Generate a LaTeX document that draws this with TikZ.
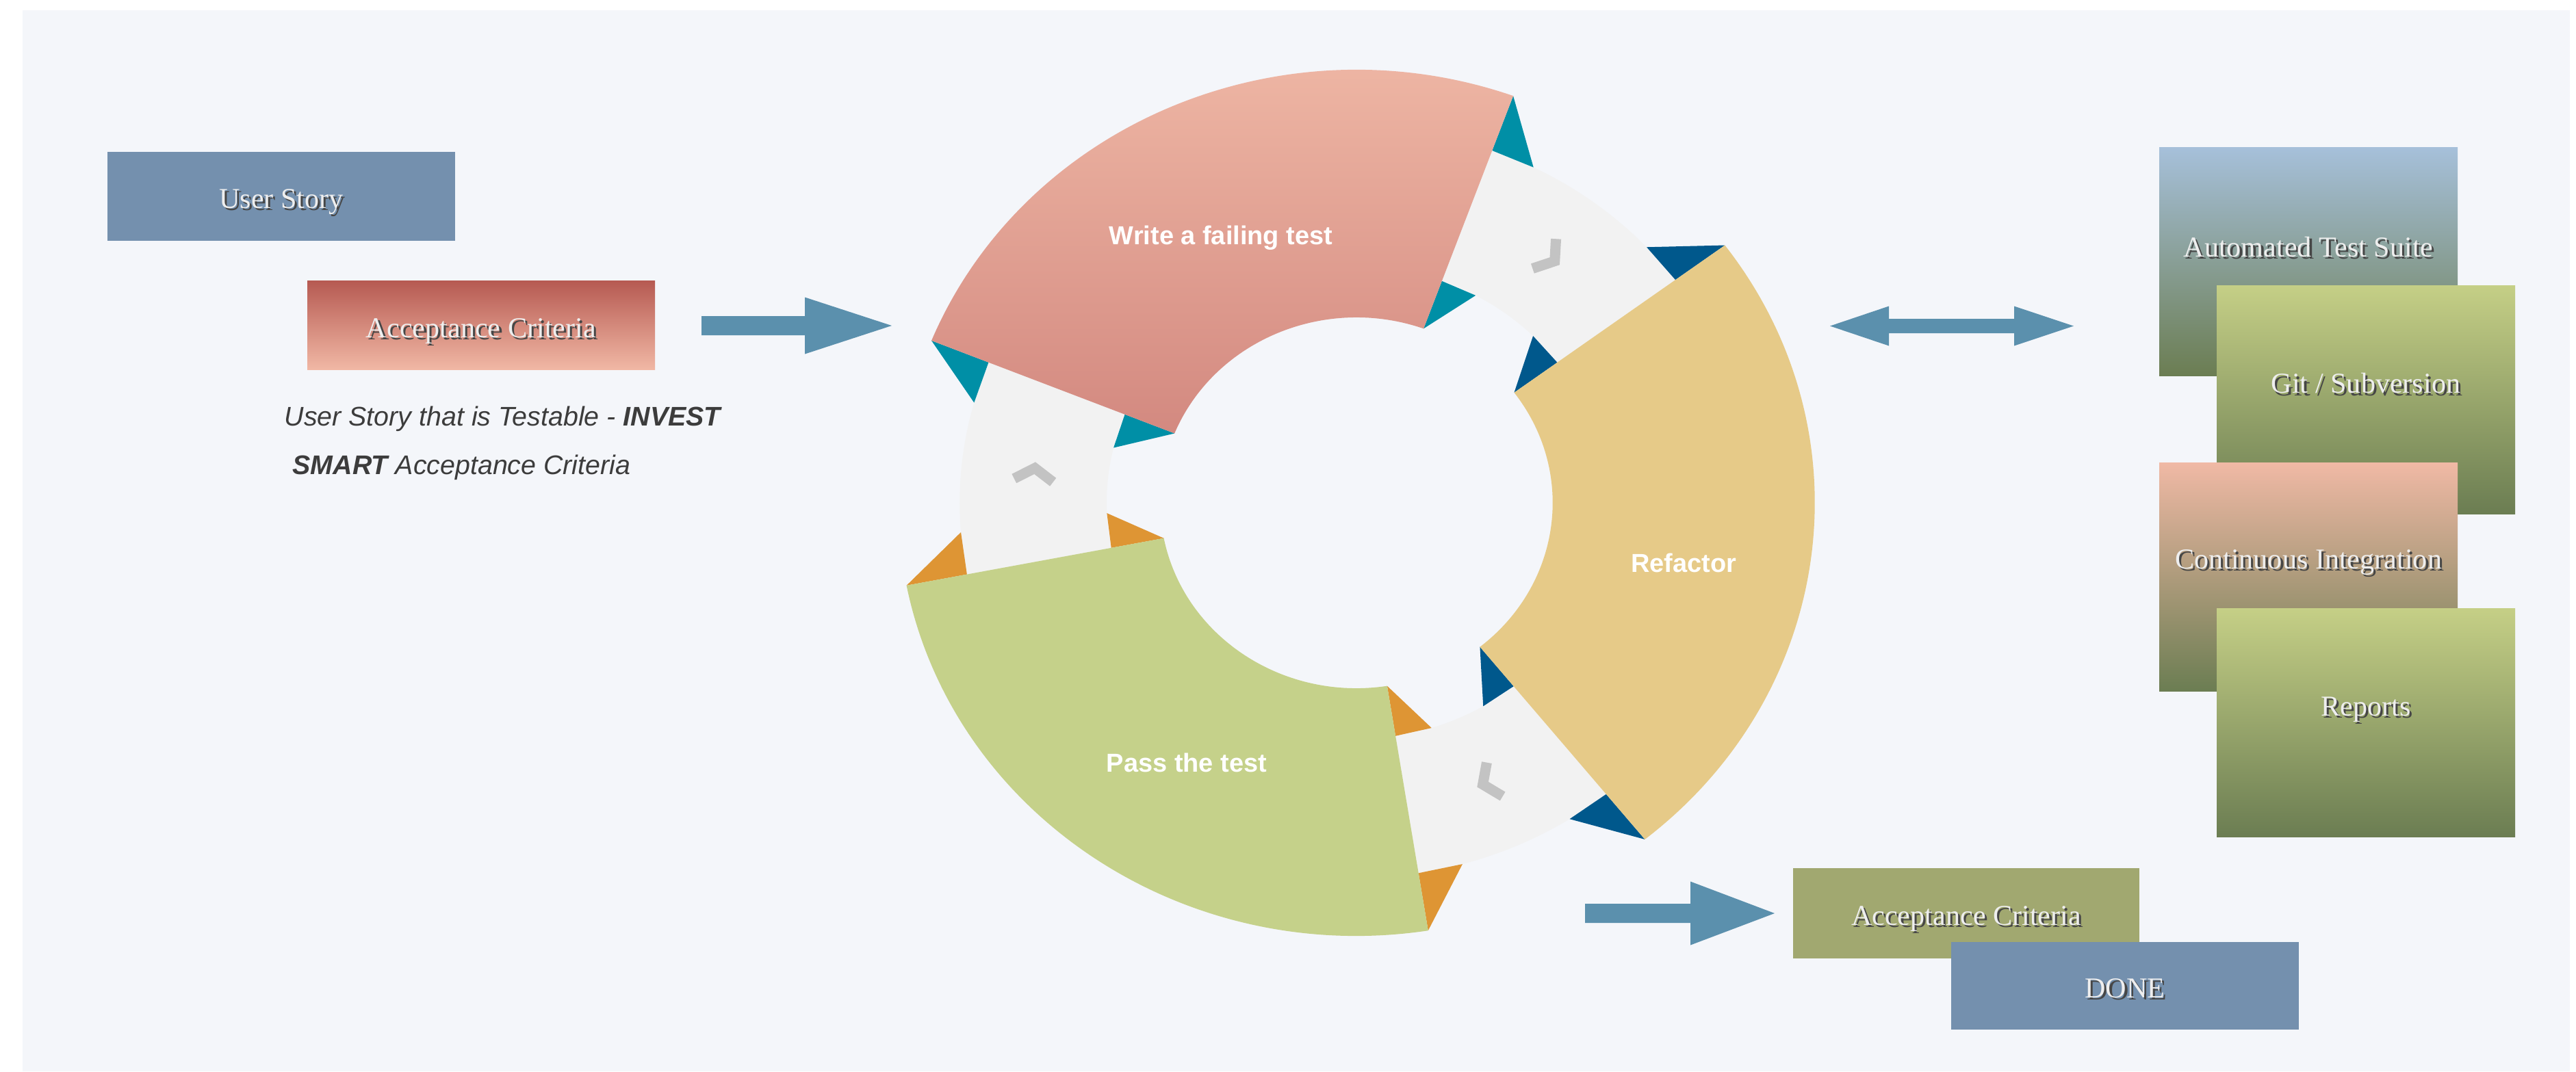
\documentclass[tikz,border=0pt]{standalone}
\usepackage{fontspec}
\setmainfont{Liberation Serif}
\setsansfont{Liberation Sans}
\usetikzlibrary{positioning}

\definecolor{panel}{RGB}{244,246,250}
\definecolor{storyblue}{RGB}{116,144,174}
\definecolor{acctop}{RGB}{182,90,82}
\definecolor{accbottom}{RGB}{241,184,165}
\definecolor{accgreen}{RGB}{161,168,112}
\definecolor{arrowblue}{RGB}{91,144,173}
\definecolor{notetext}{RGB}{60,60,60}
\definecolor{boxtext}{RGB}{238,238,238}
\definecolor{shadowgray}{RGB}{70,70,70}
\definecolor{failtop}{RGB}{241,187,168}
\definecolor{failbottom}{RGB}{211,137,128}
\definecolor{refactorfill}{RGB}{230,202,136}
\definecolor{passfill}{RGB}{197,209,138}
\definecolor{bandgray}{RGB}{242,242,242}
\definecolor{chevgray}{RGB}{195,195,195}
\definecolor{barbteal}{RGB}{0,143,166}
\definecolor{barbblue}{RGB}{0,88,140}
\definecolor{barborange}{RGB}{222,149,52}
\definecolor{suitetop}{RGB}{166,192,218}
\definecolor{olivetop}{RGB}{197,207,134}
\definecolor{citop}{RGB}{240,185,165}
\definecolor{olivebottom}{RGB}{107,125,82}

% light text with a dark drop shadow
\newcommand\shtxt[1]{\makebox[0pt][l]{\kern0.9pt\raisebox{-0.9pt}{\color{shadowgray}#1}}#1}

\begin{document}
\begin{tikzpicture}[
  box/.style = {shape=rectangle, minimum width=5.08cm, minimum height=1.3cm, inner sep=0pt,
                text height=2.2ex, text depth=0pt, text=boxtext, font=\fontsize{12}{14}\selectfont},
  tallbox/.style = {shape=rectangle, minimum width=4.36cm, minimum height=3.34cm, inner sep=0pt},
  boxlabel/.style = {text=boxtext, inner sep=0pt, font=\fontsize{12}{14}\selectfont},
  seglabel/.style = {text=white, font=\sffamily\bfseries\fontsize{10.8}{13}\selectfont},
  note/.style = {anchor=west, inner sep=0pt, text=notetext, font=\sffamily\itshape\fontsize{11.2}{13}\selectfont},
  blockarrow/.style = {fill=arrowblue},
  band/.style = {fill=bandgray},
  chevron/.style = {draw=chevgray, line width=0.15cm, line join=miter}
  ]
  \useasboundingbox (0,0) rectangle (37.64,-15.66);
  \fill[white] (0,0) rectangle (37.64,-15.66);
  \fill[panel] (0.33,-0.15) rectangle (37.55,-15.66);

  % left side
  \node[box, fill=storyblue] (story) at (4.11,-2.865) {\shtxt{User Story}};
  \node[box, top color=acctop, bottom color=accbottom] (accred) at (7.03,-4.755) {\shtxt{Acceptance Criteria}};
  \node[note] (invest) at (4.15,-6.12) {User Story that is Testable - \textbf{INVEST}};
  \node[note] (smart) at (4.27,-6.83) {\textbf{SMART} Acceptance Criteria};

  \coordinate (inarrow) at (10.25,-4.76);
  \fill[blockarrow, shift={(inarrow)}] (0,0.14) -- (1.51,0.14) -- (1.51,0.415) -- (2.78,0)
    -- (1.51,-0.415) -- (1.51,-0.14) -- (0,-0.14) -- cycle;

  % the cycle
  \coordinate (hub) at (19.82,-7.35);
  \begin{scope}[shift={(hub)}, xscale=1.058]
    \foreach \a/\b in {36.5/70, -81/-51, 158/191}
      \fill[band] (\a:5.48) arc[start angle=\a, end angle=\b, radius=5.48]
        -- (\b:3.45) arc[start angle=\b, end angle=\a, radius=3.45] -- cycle;
    \foreach \e/\d/\c in {70/-1/barbteal, 158/1/barbteal, 36.5/1/barbblue,
                          -51/-1/barbblue, 191/-1/barborange, 279/1/barborange} {
      \fill[\c] (\e:6.33) -- (\e:5.48) -- ({\e+(\d)*6.5}:5.48) -- cycle;
      \fill[\c] (\e:2.71) -- (\e:3.45) -- ({\e+(\d)*8.5}:3.45) -- cycle;
    }
    \shade[top color=failtop, bottom color=failbottom]
      (70:6.33) arc[start angle=70, end angle=158, radius=6.33]
      -- (158:2.71) arc[start angle=158, end angle=70, radius=2.71] -- cycle;
    \fill[refactorfill]
      (-51:6.33) arc[start angle=-51, end angle=36.5, radius=6.33]
      -- (36.5:2.71) arc[start angle=36.5, end angle=-51, radius=2.71] -- cycle;
    \fill[passfill]
      (191:6.33) arc[start angle=191, end angle=279, radius=6.33]
      -- (279:2.71) arc[start angle=279, end angle=191, radius=2.71] -- cycle;
    \foreach \m in {53.25, -66, 174.5}
      \draw[chevron, shift={(\m:4.47)}, rotate=\m-90] (-0.1,0.27) -- (0.08,0) -- (-0.1,-0.27);
  \end{scope}
  \node[seglabel] (write) at (17.84,-3.48) {Write a failing test};
  \node[seglabel] (refactor) at (24.60,-8.23) {Refactor};
  \node[seglabel] (pass) at (17.34,-11.15) {Pass the test};

  % tooling
  \coordinate (sync) at (28.52,-4.765);
  \fill[blockarrow, shift={(sync)}] (-1.78,0) -- (-0.92,0.29) -- (-0.92,0.105) -- (0.91,0.105)
    -- (0.91,0.29) -- (1.78,0) -- (0.91,-0.29) -- (0.91,-0.105) -- (-0.92,-0.105)
    -- (-0.92,-0.29) -- cycle;

  \node[tallbox, top color=suitetop, bottom color=olivebottom] (suite) at (33.73,-3.825) {};
  \node[boxlabel] (suitetext) at ([yshift=0.2cm]suite.center) {\shtxt{Automated Test Suite}};
  \node[tallbox, top color=olivetop, bottom color=olivebottom] (vcs) at (34.57,-5.84) {};
  \node[boxlabel] (vcstext) at ([yshift=0.22cm]vcs.center) {\shtxt{Git / Subversion}};
  \node[tallbox, top color=citop, bottom color=olivebottom] (ci) at (33.73,-8.435) {};
  \node[boxlabel] (citext) at ([yshift=0.2cm]ci.center) {\shtxt{Continuous Integration}};
  \node[tallbox, top color=olivetop, bottom color=olivebottom] (reports) at (34.57,-10.565) {};
  \node[boxlabel] (reportstext) at ([yshift=0.18cm]reports.center) {\shtxt{Reports}};

  % done
  \coordinate (donearrow) at (23.16,-13.35);
  \fill[blockarrow, shift={(donearrow)}] (0,0.14) -- (1.54,0.14) -- (1.54,0.465) -- (2.77,0)
    -- (1.54,-0.465) -- (1.54,-0.14) -- (0,-0.14) -- cycle;
  \node[box, fill=accgreen, minimum width=5.06cm, minimum height=1.32cm] (accdone) at (28.73,-13.35) {\shtxt{Acceptance Criteria}};
  \node[box, fill=storyblue, minimum height=1.28cm] (done) at (31.05,-14.41) {\shtxt{DONE}};
\end{tikzpicture}
\end{document}
